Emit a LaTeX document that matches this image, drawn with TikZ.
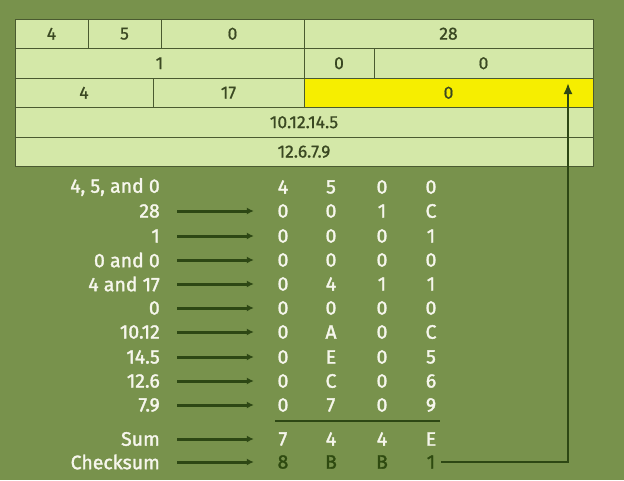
\documentclass[tikz,border=0pt]{standalone}
\usepackage{fontspec}
\setmainfont{Fira Sans}
\newfontfamily\medfont{Fira Sans}[FakeBold=1.6]
\newfontfamily\tabfont{Fira Sans}[FakeBold=0.8]
\usetikzlibrary{arrows.meta}
\definecolor{bg}{HTML}{78924C}
\definecolor{cellfill}{HTML}{D4E8A8}
\definecolor{cellline}{HTML}{4A5A30}
\definecolor{celltext}{HTML}{3A4822}
\definecolor{hl}{HTML}{F6EE00}
\definecolor{arrowc}{HTML}{2D4714}
\definecolor{cks}{HTML}{2E4A10}
\definecolor{wtext}{HTML}{F6F6EC}
\tikzset{
  cell/.style={draw=cellline, line width=0.8pt, fill=cellfill, inner sep=0pt,
    text=celltext, font=\tabfont\fontsize{17.5}{17.5}\selectfont},
  lab/.style={anchor=east, inner sep=0pt, text=wtext, font=\medfont\fontsize{19.5}{19.5}\selectfont},
  dig/.style={inner sep=0pt, minimum width=14pt, text=wtext, font=\medfont\fontsize{19.5}{19.5}\selectfont},
  ckdig/.style={dig, text=cks},
  arr/.style={draw=arrowc, line width=3pt, -{Latex[length=7pt,width=7pt]}},
}
\begin{document}
\begin{tikzpicture}[x=1pt,y=-1pt]
\fill[bg] (0,0) rectangle (624,480);
\useasboundingbox (0,0) rectangle (624,480);
% table
\node[cell, minimum width=73, minimum height=29.5] (c11) at (51.5,33.75) {4};
\node[cell, minimum width=73, minimum height=29.5] (c12) at (124.5,33.75) {5};
\node[cell, minimum width=143, minimum height=29.5] (c13) at (232.5,33.75) {0};
\node[cell, minimum width=289, minimum height=29.5] (c14) at (448.5,33.75) {28};
\node[cell, minimum width=289, minimum height=29.5] (c21) at (159.5,63.25) {1};
\node[cell, minimum width=70, minimum height=29.5] (c22) at (339,63.25) {0};
\node[cell, minimum width=219, minimum height=29.5] (c23) at (483.5,63.25) {0};
\node[cell, minimum width=138, minimum height=29.5] (c31) at (84,92.75) {4};
\node[cell, minimum width=151, minimum height=29.5] (c32) at (228.5,92.75) {17};
\node[cell, fill=hl, minimum width=289, minimum height=29.5] (c33) at (448.5,92.75) {0};
\node[cell, minimum width=578, minimum height=29.5] (c41) at (304,122.25) {10.12.14.5};
\node[cell, minimum width=578, minimum height=29.5] (c51) at (304,151.75) {12.6.7.9};
% rows
\foreach \i/\y/\l/\a/\b/\c/\d in {
  1/187/{4, 5, and 0}/4/5/0/0,
  2/211/28/0/0/1/C,
  3/236/1/0/0/0/1,
  4/260/0 and 0/0/0/0/0,
  5/284/4 and 17/0/4/1/1,
  6/308/0/0/0/0/0,
  7/332/10.12/0/A/0/C,
  8/357/14.5/0/E/0/5,
  9/381/12.6/0/C/0/6,
  10/405/7.9/0/7/0/9,
  11/439/Sum/7/4/4/E}{
  \node[lab] (l\i) at (160,\y) {\l};
  \node[dig] (a\i) at (283,\y) {\a};
  \node[dig] (b\i) at (331,\y) {\b};
  \node[dig] (c\i) at (382,\y) {\c};
  \node[dig] (d\i) at (431,\y) {\d};
}
\node[lab] (l12) at (160,462) {Checksum};
\node[ckdig] (a12) at (283,462) {8};
\node[ckdig] (b12) at (331,462) {B};
\node[ckdig] (c12) at (382,462) {B};
\node[ckdig] (d12) at (431,462) {1};
\foreach \i in {2,...,12}{
  \draw[arr] ([xshift=17pt]l\i.east |- a\i.west) -- ([xshift=-22pt]a\i.west);
}
% sum line
\coordinate (sl) at (275,421);
\coordinate (sr) at (440,421);
\draw[draw=arrowc, line width=1.6pt] (sl) -- (sr);
% checksum connector
\coordinate (corner) at (568,462);
\coordinate (tip) at (568,83);
\draw[draw=arrowc, line width=2pt, -{Latex[length=11pt,width=9pt]}] ([xshift=3pt]d12.east) -- (corner) -- (tip);
\end{tikzpicture}
\end{document}
